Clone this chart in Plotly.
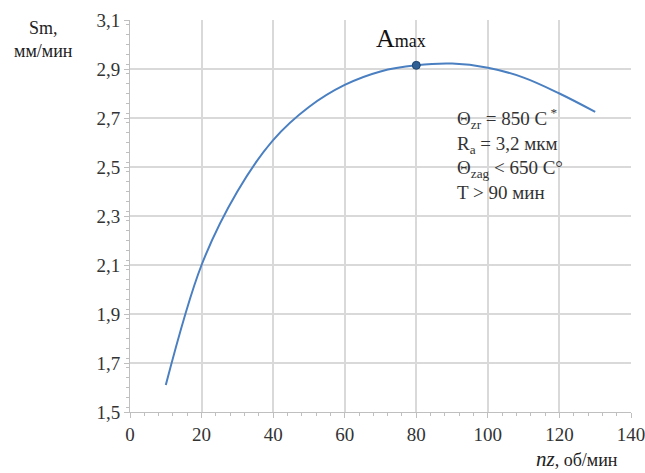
import plotly.graph_objects as go

nz = [10, 20, 30, 40, 50, 60, 70, 80, 90, 100, 110, 120, 130]
sm = [1.61, 2.10, 2.40, 2.61, 2.745, 2.835, 2.89, 2.915, 2.922, 2.905, 2.865, 2.80, 2.725]
amax_x = [80]
amax_y = [2.915]
x_ticks = [0, 20, 40, 60, 80, 100, 120, 140]
y_ticks = [1.5, 1.7, 1.9, 2.1, 2.3, 2.5, 2.7, 2.9, 3.1]

serif = "'Times New Roman', 'Liberation Serif', serif"

W, H = 645, 473
L, R, T, B = 130, 14, 20, H - 412

fig = go.Figure()
fig.add_trace(go.Scatter(x=nz, y=sm, mode="lines",
                         line=dict(color="#4a7fc1", width=2, shape="spline", smoothing=1.0),
                         hoverinfo="skip", showlegend=False))
fig.add_trace(go.Scatter(x=amax_x, y=amax_y, mode="markers",
                         marker=dict(color="#2f5f93", size=8, line=dict(color="#1f4470", width=1)),
                         showlegend=False))

axis_common = dict(showgrid=True, gridcolor="#d9d9d9", gridwidth=1.5, showline=True, linecolor="#bfbfbf",
                   linewidth=1, ticks="outside", tickcolor="#bfbfbf", ticklen=5, zeroline=False,
                   tickfont=dict(family=serif, size=19, color="#333"))
fig.update_xaxes(range=[0, 140], tickvals=x_ticks, **axis_common, ticklabeloverflow="allow",
                 minor=dict(ticks="outside", dtick=4, ticklen=3, tickcolor="#bfbfbf", showgrid=False))
fig.update_yaxes(range=[1.5, 3.1], tickvals=y_ticks, tickformat=".1f", **axis_common,
                 minor=dict(ticks="outside", dtick=0.04, ticklen=3, tickcolor="#bfbfbf", showgrid=False))

pw, ph = W - L - R, H - T - B
def px(xp): return (xp - L) / pw
def py(yp): return (H - B - yp) / ph

fig.add_annotation(x=px(401), y=py(39), xref="paper", yref="paper",
                   text="A<span style='font-size:18px'>max</span>",
                   showarrow=False, xanchor="center", yanchor="middle",
                   font=dict(family=serif, size=26, color="#111"))

info = ("Θ<sub>zr</sub> = 850 C<sup> *</sup><br>R<sub>a</sub> = 3,2 мкм<br>"
        "Θ<sub>zag</sub> < 650 C°<br>T > 90 мин")
fig.add_annotation(x=px(455), y=py(103), xref="paper", yref="paper", text=info, showarrow=False, align="left",
                   xanchor="left", yanchor="top", font=dict(family=serif, size=19, color="#333"))

fig.add_annotation(text="Sm,<br>мм/мин", x=px(43), y=py(40), xref="paper", yref="paper",
                   xanchor="center", yanchor="middle", showarrow=False, align="center",
                   font=dict(family=serif, size=18, color="#222"))
fig.add_annotation(text="<i><span style='font-size:21px'>nz</span></i>, об/мин", x=px(577), y=py(459),
                   xref="paper", yref="paper", xanchor="center", yanchor="middle", showarrow=False,
                   font=dict(family=serif, size=18, color="#222"))

fig.update_layout(width=W, height=H, margin=dict(l=L, r=R, t=T, b=B, autoexpand=False),
                  paper_bgcolor="white", plot_bgcolor="white", separators=",.")

fig.write_html("out.html", config={"displayModeBar": False},
               post_script="document.body.style.margin='0';document.body.style.overflow='hidden';")
